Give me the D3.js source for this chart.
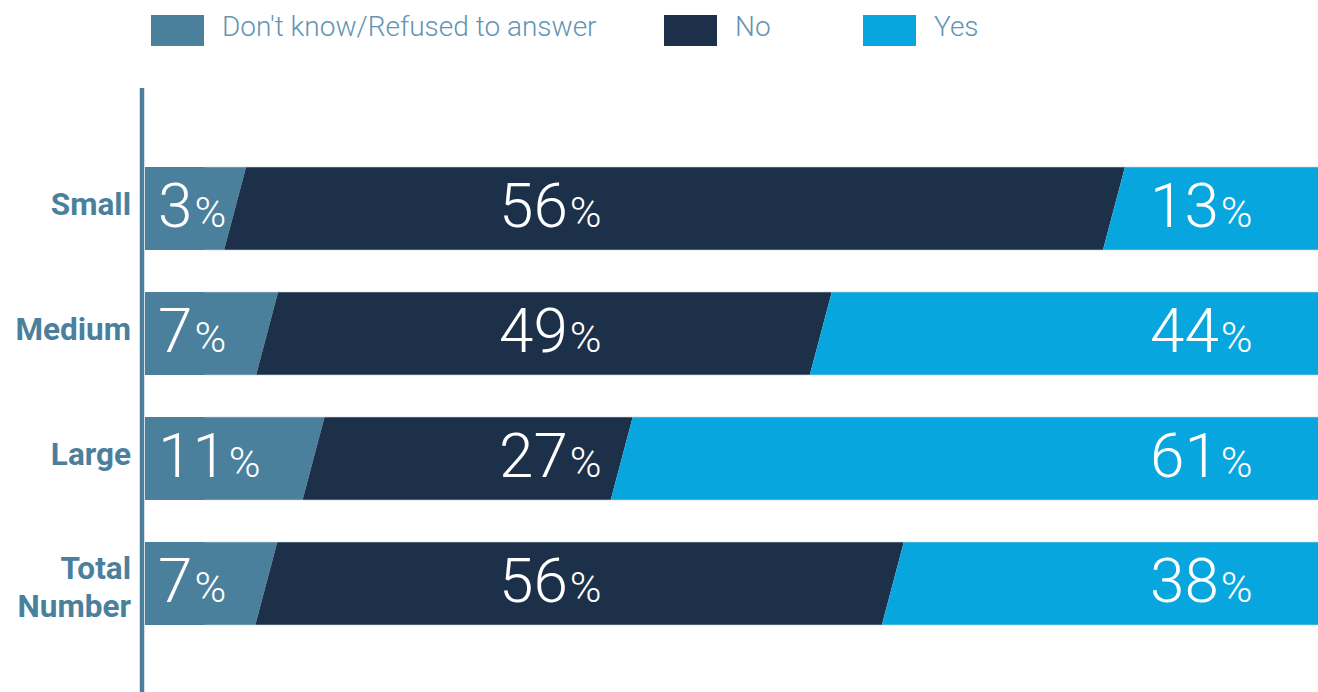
<!DOCTYPE html>
<html>
<head>
<meta charset="utf-8">
<script src="https://cdn.jsdelivr.net/npm/d3@7"></script>
<style>
  html, body { margin: 0; padding: 0; background: #ffffff; }
  svg { display: block; }
  text { font-family: Roboto, "Noto Sans", "DejaVu Sans", sans-serif; }
</style>
</head>
<body>
<svg id="chart" width="1318" height="692"></svg>
<script>
// ---- data ----
const categories = ["Small", "Medium", "Large", "Total Number"];
const seriesNames = ["Don't know/Refused to answer", "No", "Yes"];
const dontKnow = [3, 7, 11, 7];
const no = [56, 49, 27, 56];
const yes = [13, 44, 61, 38];

// ---- layout ----
const W = 1318, H = 692;
const axisX = 142;          // vertical axis line centre
const barLeft = 145;        // bars start right of the axis
const slant = 11;           // half of the horizontal shift of slanted joins
const colors = ["#4b809d", "#1c304a", "#08a6de"];
const labelColor = "#4b809d";
const legendTextColor = "#6394b2";

const svg = d3.select("#chart");

const rows = categories.map((c, i) => ({
  cat: c, [seriesNames[0]]: dontKnow[i], [seriesNames[1]]: no[i], [seriesNames[2]]: yes[i]
}));

// normalised stack (each row expanded to its own total)
const stacked = d3.stack().keys(seriesNames).offset(d3.stackOffsetExpand)(rows);

const x = d3.scaleLinear().domain([0, 1]).range([188, W]);
const y = d3.scaleBand().domain(categories).range([167, 625]).paddingInner(0.336).paddingOuter(0);
const color = d3.scaleOrdinal().domain(seriesNames).range(colors);

// ---- bars (parallelogram-joined segments) ----
const segs = svg.append("g").attr("class", "bars");
stacked.forEach((layer, li) => {
  layer.forEach((d, ri) => {
    const cat = categories[ri];
    const top = y(cat), bot = y(cat) + y.bandwidth();
    const isFirst = li === 0, isLast = li === seriesNames.length - 1;
    const x0t = isFirst ? barLeft : x(d[0]) + slant;
    const x0b = isFirst ? barLeft : x(d[0]) - slant;
    const x1t = isLast ? W : x(d[1]) + slant;
    const x1b = isLast ? W : x(d[1]) - slant;
    segs.append("path")
      .attr("d", `M${x0t},${top}L${x1t},${top}L${x1b},${bot}L${x0b},${bot}Z`)
      .attr("fill", color(layer.key));
  });
});

// faint edge lines on the bars
categories.forEach(cat => {
  [y(cat), y(cat) + y.bandwidth()].forEach(yy => {
    svg.append("line")
      .attr("x1", 205).attr("x2", W)
      .attr("y1", yy).attr("y2", yy)
      .attr("stroke", "#c7d4dd").attr("stroke-width", 1).attr("opacity", 0.6);
  });
});

// ---- value labels (fixed columns as in the original) ----
const labelCols = [158, 499, 1150];
const valueSets = [dontKnow, no, yes];
valueSets.forEach((vals, si) => {
  vals.forEach((v, ri) => {
    const cy = y(categories[ri]) + y.bandwidth() / 2;
    const t = svg.append("text")
      .attr("x", labelCols[si]).attr("y", cy + 18.5)
      .attr("fill", "#ffffff")
      .attr("font-weight", 300);
    t.append("tspan").attr("font-size", 62).text(v);
    t.append("tspan").attr("font-size", 43).attr("dx", 2).text("%");
  });
});

// ---- category axis ----
svg.append("line")
  .attr("x1", axisX).attr("x2", axisX)
  .attr("y1", 88).attr("y2", H)
  .attr("stroke", labelColor).attr("stroke-width", 4.5);

categories.forEach(cat => {
  const cy = y(cat) + y.bandwidth() / 2;
  const words = cat.split(" ");
  const lh = 38;
  const t = svg.append("text")
    .attr("text-anchor", "end")
    .attr("fill", labelColor)
    .attr("font-weight", 700)
    .attr("font-size", 31.5);
  words.forEach((w, i) => {
    t.append("tspan")
      .attr("x", 131)
      .attr("y", cy + 6 - (words.length - 1) * 11 + i * lh)
      .text(w);
  });
});

// ---- legend ----
const legendX = [151, 664, 863];
const legend = svg.append("g").attr("class", "legend");
seriesNames.forEach((s, i) => {
  legend.append("rect")
    .attr("x", legendX[i]).attr("y", 15)
    .attr("width", 53).attr("height", 31)
    .attr("fill", color(s));
  legend.append("text")
    .attr("x", legendX[i] + 71).attr("y", 36)
    .attr("fill", legendTextColor)
    .attr("font-size", 28)
    .attr("font-weight", 300)
    .text(s);
});
</script>
</body>
</html>
